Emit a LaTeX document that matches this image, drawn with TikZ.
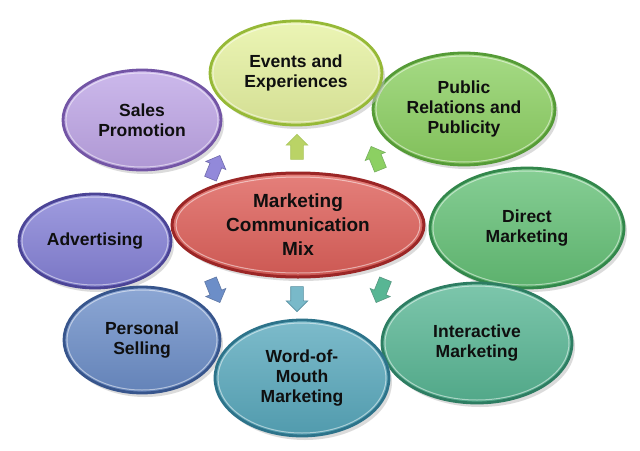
\documentclass[tikz,border=0pt]{standalone}
\usepackage{fontspec}
\setmainfont{Liberation Sans}
\usetikzlibrary{shapes.geometric,shapes.arrows}
\definecolor{evF}{RGB}{230,242,160}\definecolor{evD}{RGB}{150,185,55}
\definecolor{prF}{RGB}{140,208,98}\definecolor{prD}{RGB}{85,155,55}
\definecolor{dmF}{RGB}{100,192,118}\definecolor{dmD}{RGB}{50,135,75}
\definecolor{imF}{RGB}{88,182,148}\definecolor{imD}{RGB}{45,125,98}
\definecolor{wmF}{RGB}{88,168,188}\definecolor{wmD}{RGB}{45,115,138}
\definecolor{psF}{RGB}{108,142,200}\definecolor{psD}{RGB}{55,85,140}
\definecolor{adF}{RGB}{132,128,214}\definecolor{adD}{RGB}{75,68,150}
\definecolor{spF}{RGB}{190,165,230}\definecolor{spD}{RGB}{115,85,165}
\definecolor{mcF}{RGB}{222,96,90}\definecolor{mcD}{RGB}{155,38,38}
\definecolor{txt}{RGB}{15,15,15}
\tikzset{
  bubble/.style={ellipse, inner sep=0pt, line width=2.8pt, text=txt, align=center,
    font=\fontsize{17.5}{20}\selectfont\bfseries},
  arrowbox/.style={single arrow, minimum height=25pt, inner sep=6pt,
    single arrow head extend=4.5pt, line width=0.6pt},
}
% name, x, y, rx, ry, colour prefix, text
\newcommand{\mybubble}[7]{%
  \fill[black!25, opacity=0.55] (#2+3,#3+4) ellipse [x radius=#4pt, y radius=#5pt];
  \node[bubble, minimum width={2*#4pt}, minimum height={2*#5pt},
        top color=#6F!78!white, bottom color=#6F!92!black, draw=#6D] (#1) at (#2,#3) {#7};
  \draw[white, opacity=0.5, line width=1pt] (#1.center) ellipse [x radius={#4pt-3pt}, y radius={#5pt-3pt}];
}
\newcommand{\myarrow}[6]{% name, x, y, angle, fill, draw
  \node[arrowbox, rotate=#4, fill=#5, draw=#6] (#1) at (#2,#3) {};
}
\begin{document}
\begin{tikzpicture}[x=1pt,y=-1pt]
\useasboundingbox[fill=white] (0,0) rectangle (640,450);
\mybubble{pr}{464}{109}{91}{56}{pr}{Public\\Relations and\\Publicity}
\mybubble{ev}{296}{73}{86}{52}{ev}{Events and\\Experiences}
\mybubble{sp}{142}{120}{79}{50}{sp}{Sales\\Promotion}
\mybubble{ad}{95}{241}{76}{47}{ad}{Advertising}
\mybubble{dm}{527}{228}{97}{60}{dm}{Direct\\Marketing}
\mybubble{ps}{142}{340}{78}{53}{ps}{Personal\\Selling}
\mybubble{im}{477}{343}{95}{60}{im}{Interactive\\Marketing}
\mybubble{wm}{302}{378}{87}{58}{wm}{Word-of-\\Mouth\\Marketing}
\myarrow{a1}{297}{150}{90}{evD!55!evF}{evD!80!white}
\myarrow{a2}{377}{161}{112}{prF}{prD!80!white}
\myarrow{a3}{214}{170}{68}{adF!75!spF}{adD!80!white}
\myarrow{a4}{214}{288}{-68}{psF}{psD!80!white}
\myarrow{a5}{297}{296}{-90}{wmF!80!white}{wmD!80!white}
\myarrow{a6}{382}{288}{-112}{imF}{imD!80!white}
\fill[black!25, opacity=0.55] (301,229) ellipse [x radius=126pt, y radius=52pt];
\node[bubble, minimum width=252pt, minimum height=104pt, line width=3pt,
      top color=mcF!80!white, bottom color=mcF!92!black, draw=mcD,
      font=\fontsize{19}{24}\selectfont\bfseries] (mc) at (298,225)
      {Marketing\\Communication\\Mix};
\draw[white, opacity=0.5, line width=1pt] (mc.center) ellipse [x radius=122pt, y radius=48pt];
\end{tikzpicture}
\end{document}
